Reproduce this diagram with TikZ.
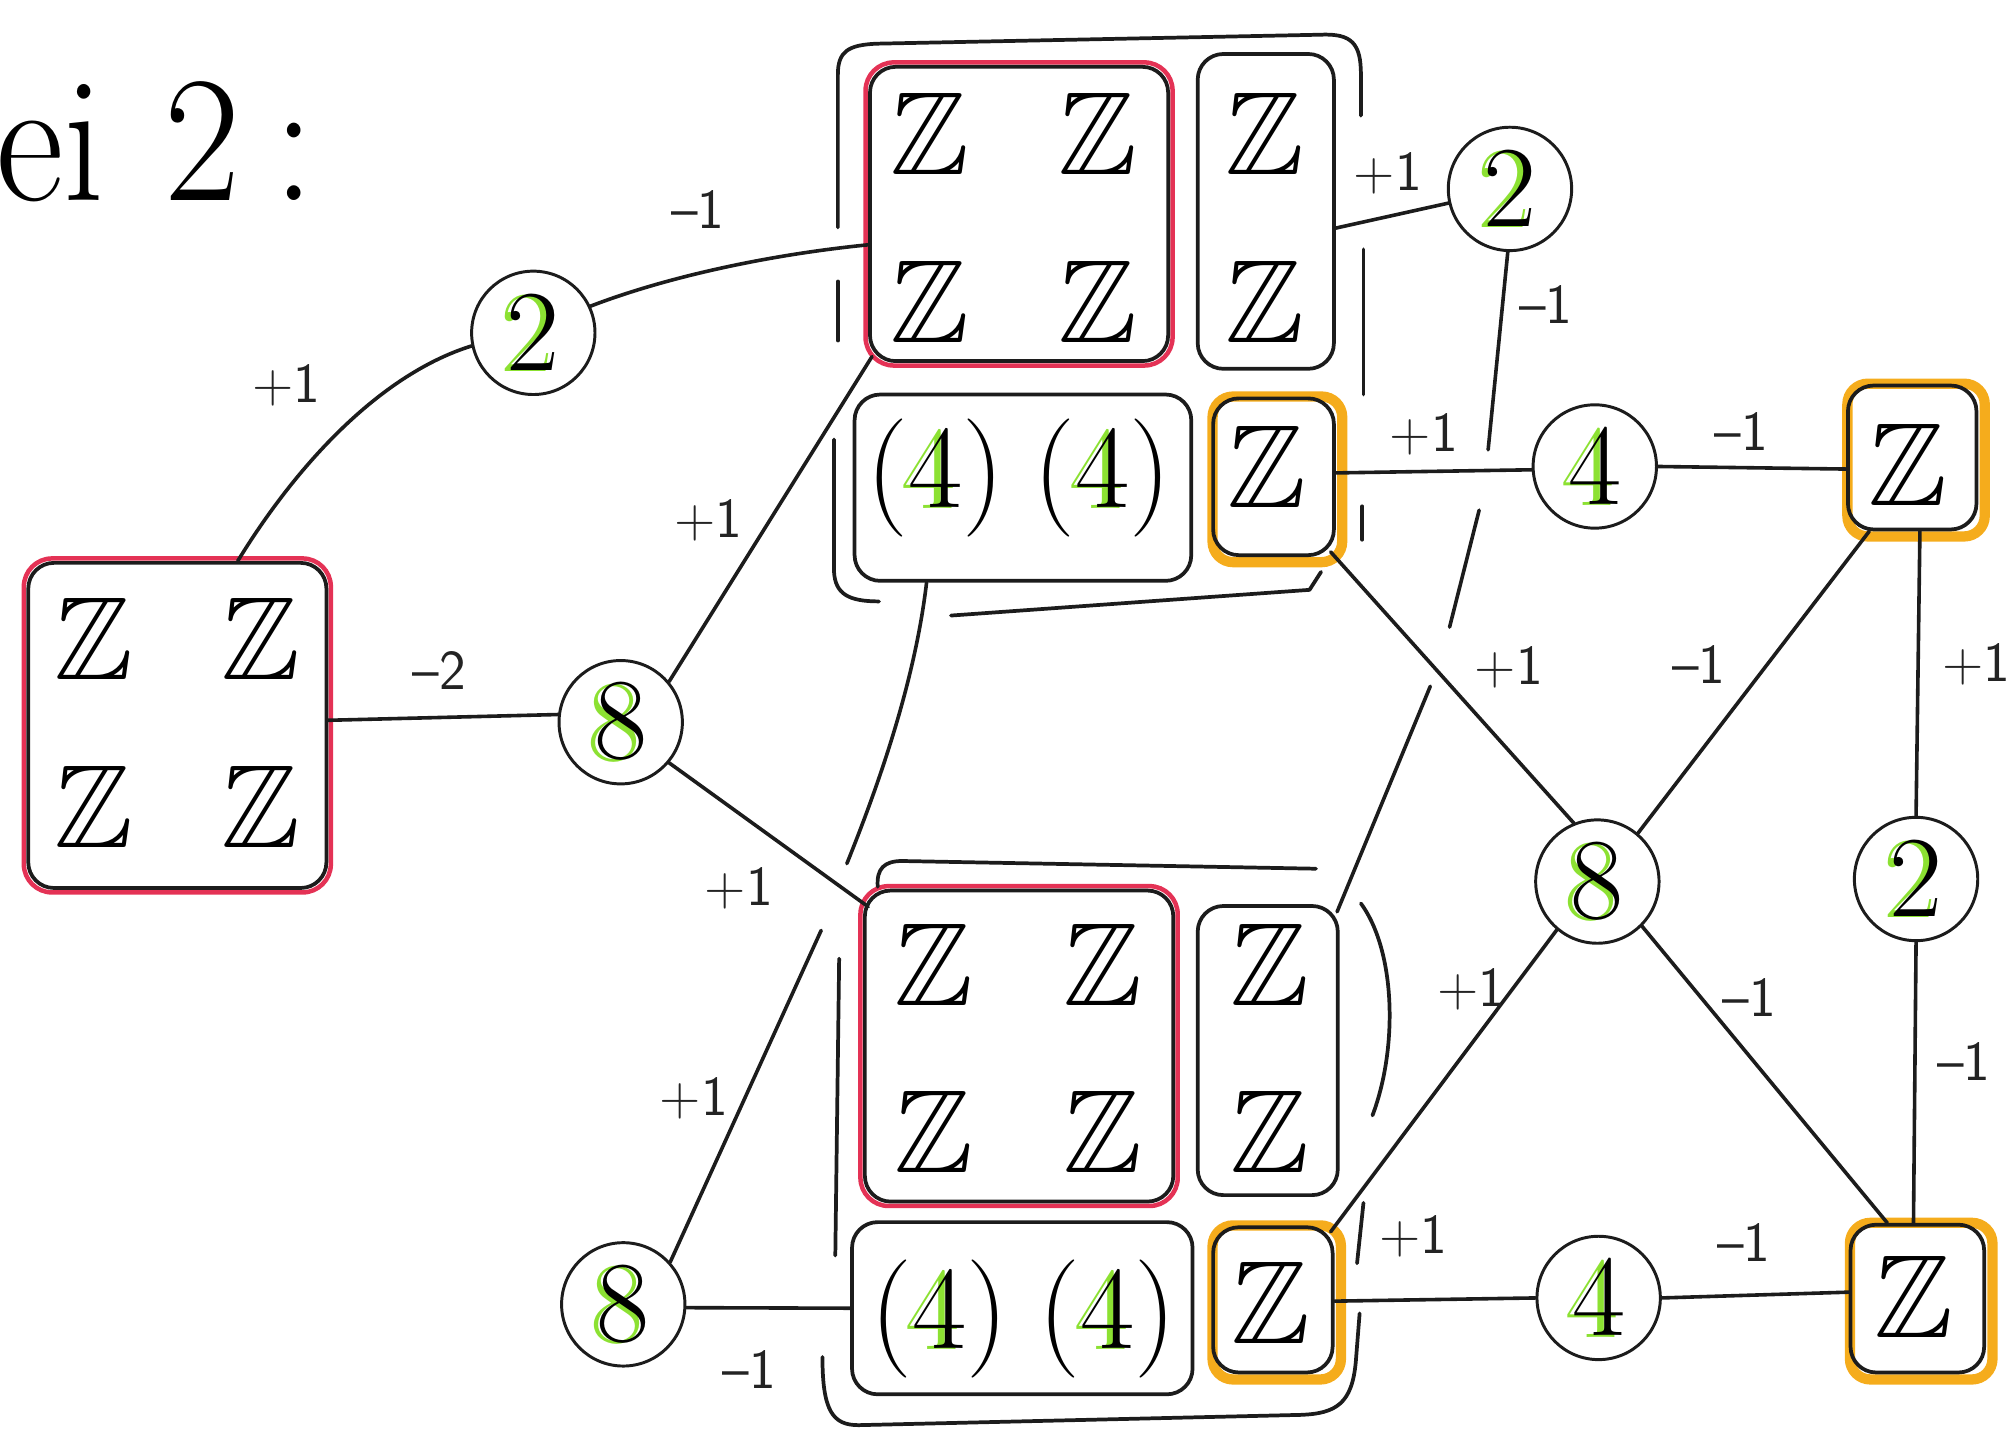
\documentclass[tikz,border=0pt]{standalone}
\usepackage{amssymb}
\usepackage{fontspec}
\usetikzlibrary{calc}
\pgfdeclarelayer{bg}
\pgfsetlayers{bg,main}
\definecolor{inkc}{RGB}{28,28,28}
\definecolor{labc}{RGB}{35,35,35}
\definecolor{redc}{RGB}{228,50,85}
\definecolor{orangec}{RGB}{245,172,28}
\definecolor{limec}{RGB}{140,225,50}
% digit with a green highlighter stroke behind it
\newcommand\grn[1]{\rlap{\kern-5pt\raisebox{-1pt}{\textcolor{limec}{#1}}}#1}
\newcommand\ZZ{$\mathbb{Z}$}
\begin{document}
\begin{tikzpicture}[x=1pt,y=-1pt,line cap=round,line join=round,
  ink/.style={draw=inkc,line width=2.9pt},
  edge/.style={draw=inkc,line width=2.8pt},
  box/.style={draw=inkc,line width=2.9pt,rounded corners=20pt,inner sep=0pt},
  ring/.style={circle,draw=inkc,line width=2.3pt,minimum size=96pt,inner sep=0pt,
               font=\fontsize{90}{90}\selectfont},
  zz/.style={font=\fontsize{92}{92}\selectfont,inner sep=0pt},
  par/.style={font=\fontsize{92}{92}\selectfont,inner sep=0pt},
  lab/.style={font=\sffamily\fontsize{44}{44}\selectfont,text=labc,inner sep=0pt},
  redpen/.style={draw=redc,line width=3.5pt,rounded corners=22pt},
  orangepen/.style={draw=orangec,line width=8pt,rounded corners=16pt}]
\useasboundingbox (0,0) rectangle (1568,1121);

% heading
\node[anchor=base west,font=\fontsize{140}{140}\selectfont,inner sep=0pt] (title) at (-3,156)
  {\scalebox{0.92}[1]{ei\hspace{0.36em}2\hspace{0.2em}:}};

% ---- boxes ----
\node[box,minimum width=232pt,minimum height=253pt] (L4) at (138,564.5) {};
\node[zz] (L4a) at (73,497) {\ZZ};
\node[zz] (L4b) at (203,497) {\ZZ};
\node[zz] (L4c) at (73,628) {\ZZ};
\node[zz] (L4d) at (203,628) {\ZZ};

\node[box,minimum width=232pt,minimum height=229pt] (R1) at (793,166.5) {};
\node[zz] (R1a) at (724,104) {\ZZ};
\node[zz] (R1b) at (854,104) {\ZZ};
\node[zz] (R1c) at (724,235) {\ZZ};
\node[zz] (R1d) at (854,235) {\ZZ};

\node[box,minimum width=106pt,minimum height=245pt] (ZZa) at (985,164.5) {};
\node[zz] (ZZa1) at (984,104) {\ZZ};
\node[zz] (ZZa2) at (984,235) {\ZZ};

\node[box,minimum width=262pt,minimum height=145pt] (P4a) at (796,379.5) {};
\node[par] (P4a1) at (728,372) {(\grn{4})};
\node[par] (P4a2) at (858,372) {(\grn{4})};

\node[box,minimum width=94pt,minimum height=122pt] (OZtop) at (991,371) {};
\node[zz] (OZtop1) at (986,363) {\ZZ};

\node[box,minimum width=240pt,minimum height=242pt] (R2) at (793,814) {};
\node[zz] (R2a) at (727,751) {\ZZ};
\node[zz] (R2b) at (858,751) {\ZZ};
\node[zz] (R2c) at (727,881) {\ZZ};
\node[zz] (R2d) at (858,881) {\ZZ};

\node[box,minimum width=109pt,minimum height=225pt] (ZZb) at (986.5,817.5) {};
\node[zz] (ZZb1) at (988,751) {\ZZ};
\node[zz] (ZZb2) at (988,881) {\ZZ};

\node[box,minimum width=265pt,minimum height=134pt] (P4b) at (795.5,1018) {};
\node[par] (P4b1) at (731,1026) {(\grn{4})};
\node[par] (P4b2) at (862,1026) {(\grn{4})};

\node[box,minimum width=93pt,minimum height=113pt] (OZbot) at (990.5,1011.5) {};
\node[zz] (OZbot1) at (989,1014) {\ZZ};

\node[box,minimum width=100pt,minimum height=112pt] (OZa) at (1488,356) {};
\node[zz] (OZa1) at (1485,362) {\ZZ};

\node[box,minimum width=104pt,minimum height=115pt] (OZb) at (1492,1010.5) {};
\node[zz] (OZb1) at (1489,1009) {\ZZ};

% ---- circled numbers ----
\node[ring] (C2a) at (415,259) {\grn{2}};
\node[ring] (C8a) at (483,562) {\grn{8}};
\node[ring] (C8b) at (485,1015) {\grn{8}};
\node[ring] (C2b) at (1175,147) {\grn{2}};
\node[ring] (C4a) at (1241,363) {\grn{4}};
\node[ring] (C8c) at (1243,686) {\grn{8}};
\node[ring] (C2c) at (1491,684) {\grn{2}};
\node[ring] (C4b) at (1244,1010) {\grn{4}};

% ---- coloured pencil marks behind the outlines ----
\begin{pgfonlayer}{bg}
\foreach \n in {L4,R1,R2}
  \draw[redpen] ($(\n.north west)+(-2,-2)$) rectangle ($(\n.south east)+(2,2)$);
\foreach \n in {OZtop,OZbot,OZa,OZb}
  \draw[orangepen] ($(\n.north west)+(1,0)$) rectangle ($(\n.south east)+(5,4)$);
\end{pgfonlayer}

% ---- bracket frames around the two groups ----
\draw[ink] (652,177) -- (652,58) .. controls (652,40) and (660,35) .. (682,34)
  -- (1028,27) .. controls (1052,26) and (1059,34) .. (1059,58) -- (1059,90);
\draw[ink] (652,219) -- (652,265);
\draw[ink] (649,342) -- (649,445) .. controls (650,462) and (660,468) .. (684,468);
\draw[ink] (1061,194) -- (1061,307);
\draw[ink] (1060,394) -- (1060,420);
\draw[ink] (1028,445) -- (1019,459) -- (740,479);

\draw[ink] (683,690) .. controls (682,676) and (688,670) .. (702,670) -- (1024,676);
\draw[ink] (1059,703) .. controls (1086,740) and (1088,815) .. (1068,868);
\draw[ink] (1061,936) -- (1056,983);
\draw[ink] (1058,1022) -- (1055,1060) .. controls (1052,1092) and (1040,1100) .. (1012,1101)
  -- (668,1109) .. controls (648,1109) and (640,1098) .. (640,1056);
\draw[ink] (653,746) -- (650,977);

% ---- connectors ----
\draw[edge] ($(L4.north)+(47,0)$) .. controls (235,355) and (300,290) .. (C2a.192);
\draw[edge] (C2a.25) .. controls (520,215) and (600,198) .. ($(R1.west)+(0,24)$);
\draw[edge] ($(L4.east)+(0,-4)$) -- (C8a.173);
\draw[edge] (C8a.40) -- ($(R1.south west)+(3,-5)$);
\draw[edge] (C8a.-40) -- ($(R2.north west)+(4,14)$);
\coordinate (g1) at (659,672);
\coordinate (g2) at (639,724);
\draw[edge] ($(P4a.south)+(-75,0)$) .. controls (712,530) and (684,610) .. (g1);
\draw[edge] (g2) -- (C8b.42);
\draw[edge] (C8b.-3) -- (P4b.west);

\draw[edge] (C2b.193) -- ($(ZZa.east)+(0,13)$);
\coordinate (h1) at (1158,350);
\coordinate (h2) at (1151,397);
\coordinate (h3) at (1128,488);
\coordinate (h4) at (1113,534);
\draw[edge] (C2b.-92) -- (h1);
\draw[edge] (h2) -- (h3);
\draw[edge] (h4) -- ($(ZZb.north east)+(-2,6)$);

\draw[edge] ($(OZtop.east)+(0,-3)$) -- (C4a.183);
\draw[edge] (C4a.east) -- ($(OZa.west)+(0,9)$);
\draw[edge] ($(OZtop.south east)+(-4,-4)$) -- (C8c.112);
\draw[edge] ($(OZa.south west)+(18,0)$) -- (C8c.50);
\draw[edge] ($(OZa.south)+(6,0)$) -- (C2c.north);
\draw[edge] (C2c.south) -- ($(OZb.north)+(-3,0)$);
\draw[edge] (C8c.-45) -- ($(OZb.north west)+(30,0)$);
\draw[edge] (C8c.-130) -- ($(OZbot.north east)+(-3,5)$);
\draw[edge] ($(OZbot.east)+(0,1)$) -- (C4b.west);
\draw[edge] (C4b.east) -- ($(OZb.west)+(0,-5)$);

% ---- edge weights ----
\node[lab] (w1)  at (223,300)  {+1};
\node[lab] (w2)  at (543,163)  {--1};
\node[lab] (w3)  at (342,522)  {--2};
\node[lab] (w4)  at (551,405)  {+1};
\node[lab] (w5)  at (575,691)  {+1};
\node[lab] (w6)  at (540,855)  {+1};
\node[lab] (w7)  at (583,1066) {--1};
\node[lab] (w8)  at (1080,135) {+1};
\node[lab] (w9)  at (1203,237) {--1};
\node[lab] (w10) at (1108,338) {+1};
\node[lab] (w11) at (1355,336) {--1};
\node[lab] (w12) at (1174,519) {+1};
\node[lab] (w13) at (1322,517) {--1};
\node[lab] (w14) at (1538,517) {+1};
\node[lab] (w15) at (1145,770) {+1};
\node[lab] (w16) at (1361,776) {--1};
\node[lab] (w17) at (1528,826) {--1};
\node[lab] (w18) at (1100,962) {+1};
\node[lab] (w19) at (1357,967) {--1};
\end{tikzpicture}
\end{document}
